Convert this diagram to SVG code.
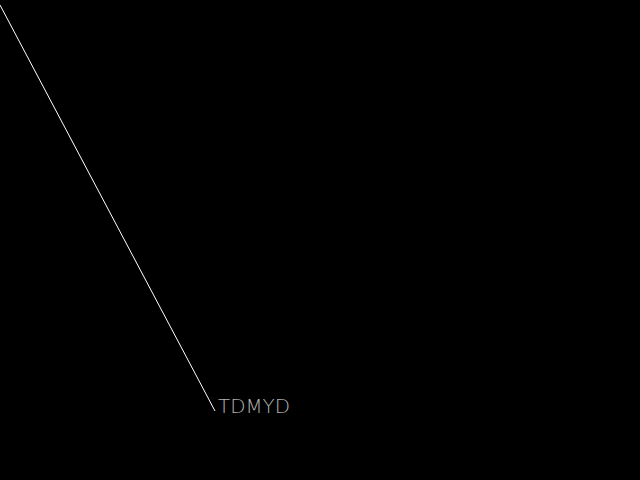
<svg xmlns="http://www.w3.org/2000/svg" width="640" height="480" viewBox="0 0 640 480">
<style>
.lbl{font-family:"DejaVu Sans","Liberation Sans",sans-serif;font-weight:200;font-size:19.5px;fill:#b4b4b4}
.edge{stroke:#ffffff;stroke-width:1;fill:none}
</style>
<rect x="0" y="0" width="640" height="480" fill="#000000"/>
<g id="connectors">
<line class="edge" x1="0" y1="5" x2="215" y2="411"/>
</g>
<g id="node-TDMYD">
<text class="lbl" x="218" y="413" textLength="72" lengthAdjust="spacingAndGlyphs">TDMYD</text>
</g>
</svg>
